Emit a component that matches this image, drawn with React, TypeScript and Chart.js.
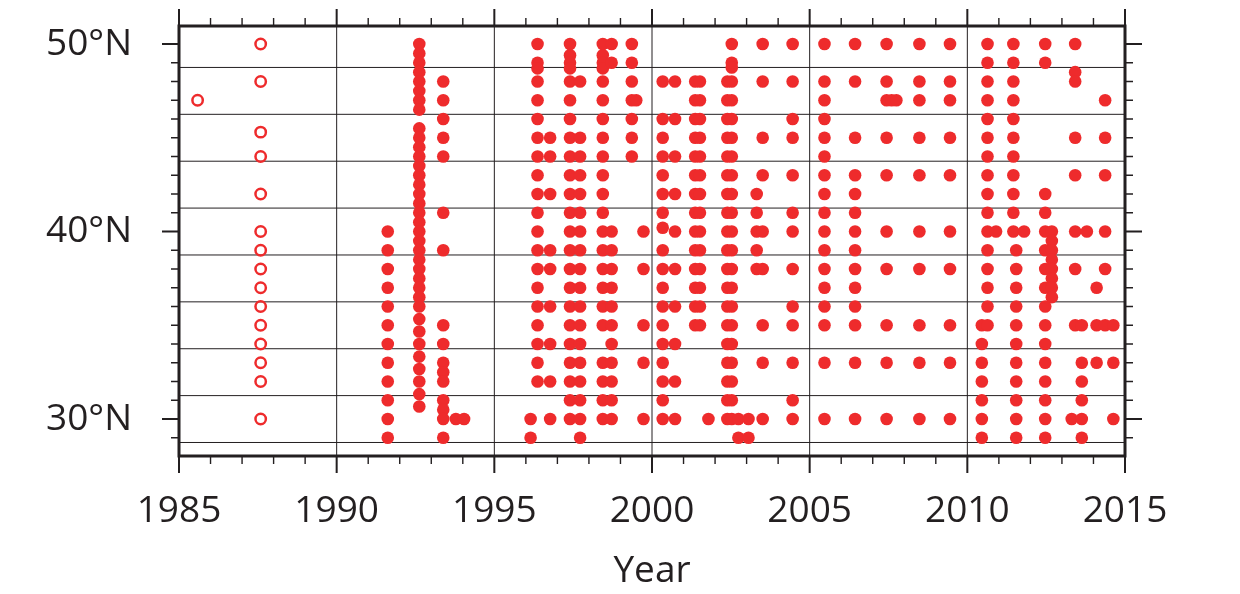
import React, { useEffect, useRef } from 'react';
import { Chart, registerables } from 'chart.js';

Chart.register(...registerables);

// ---------- data ----------
const openYears = [1985.59, 1987.59];
const openLats = [
  [47],
  [50, 48, 45.3, 44, 42, 40, 39, 38, 37, 36, 35, 34, 33, 32, 30],
];

const filledYears = [
  1991.62, 1992.62, 1993.38, 1993.78, 1994.04,
  1996.15, 1996.37, 1996.77, 1997.4, 1997.72, 1998.44, 1998.72, 1999.36, 1999.5, 1999.73,
  2000.34, 2000.73, 2001.37, 2001.52, 2001.79, 2002.39, 2002.53, 2002.74, 2003.06, 2003.32, 2003.51, 2004.46,
  2005.47, 2006.44, 2007.44, 2007.6, 2007.75, 2008.48, 2009.45,
  2010.46, 2010.64, 2010.91, 2011.46, 2011.55, 2011.8, 2012.47, 2012.68, 2013.31, 2013.42, 2013.63, 2013.79,
  2014.1, 2014.37, 2014.63,
];
const filledLats = [
  [40, 39, 38, 37, 36, 35, 34, 33, 32, 31, 30, 29],
  [50, 49.5, 49, 48.5, 48, 47.5, 47, 46.5, 45.5, 45, 44.5, 44, 43.5, 43, 42.5, 42, 41.5, 41, 40.5, 40, 39.5, 39, 38.5, 38, 37.5, 37, 36.5, 36, 35.33, 34.67, 34, 33.33, 32.67, 32, 31.33, 30.67],
  [48, 47, 46, 45, 44, 41, 39, 35, 34, 33, 32.5, 32, 31, 30.5, 30, 29],
  [30],
  [30],
  [30, 29],
  [50, 49, 48.7, 48, 47, 46, 45, 44, 43, 42, 41, 40, 39, 38, 37, 36, 35, 34, 33, 32],
  [45, 44, 42, 39, 38, 36, 34, 32, 30],
  [50, 49.4, 49, 48.7, 48, 47, 46, 45, 44, 43, 42, 41, 40, 39, 38, 37, 36, 35, 34, 33, 32, 31, 30],
  [48, 45, 44, 43, 42, 41, 40, 39, 38, 37, 36, 35, 34, 33, 32, 31, 30, 29],
  [50, 49.4, 49, 48.7, 48, 47, 46, 45, 44, 43, 42, 41, 40, 39, 38, 37, 36, 35, 33, 32, 31, 30],
  [50, 49, 40, 39, 38, 37, 36, 35, 34, 33, 32, 31, 30],
  [50, 49, 48, 47, 46, 45, 44],
  [47],
  [40, 38, 35, 33, 30],
  [48, 46, 45, 44, 43, 42, 41, 40.2, 39, 38, 37, 36, 35, 34, 33, 32, 31, 30],
  [48, 46, 44, 42, 40, 38, 36, 34, 32, 30],
  [48, 47, 46, 45, 44, 43, 42, 41, 40, 39, 38, 37, 36, 35],
  [48, 47, 46, 45, 44, 43, 42, 41, 40, 39, 38, 37, 36, 35],
  [30],
  [48, 47, 46, 45, 44, 43, 42, 41, 40, 39, 38, 37, 36, 35, 34, 33, 32, 31, 30],
  [50, 49, 48.75, 48, 47, 46, 45, 44, 43, 42, 41, 40, 39, 38, 37, 36, 35, 34, 33, 32, 31, 30],
  [30, 29],
  [30, 29],
  [42, 41, 40, 39, 38],
  [50, 48, 45, 43, 40, 38, 35, 33, 30],
  [50, 48, 46, 45, 43, 41, 40, 38, 36, 35, 33, 31, 30],
  [50, 48, 47, 46, 45, 44, 43, 42, 41, 40, 39, 38, 37, 36, 35, 33, 30],
  [50, 48, 45, 43, 42, 41, 40, 39, 38, 37, 36, 35, 33, 30],
  [50, 48, 47, 45, 43, 40, 38, 35, 33, 30],
  [47],
  [47],
  [50, 48, 47, 45, 43, 40, 38, 35, 33, 30],
  [50, 48, 47, 45, 43, 40, 38, 35, 33, 30],
  [35, 34, 33, 32, 31, 30, 29],
  [50, 49, 48, 47, 46, 45, 44, 43, 42, 41, 40, 39, 38, 37, 36, 35],
  [40],
  [50, 49, 48, 47, 46, 45, 44, 43, 42, 41, 40],
  [39, 38, 37, 36, 35, 34, 33, 32, 31, 30, 29],
  [40],
  [50, 49, 42, 41, 40, 39, 38, 37, 36, 35, 34, 33, 32, 31, 30, 29],
  [40, 39.5, 39, 38.5, 38, 37.5, 37, 36.5],
  [30],
  [50, 48.5, 48, 45, 43, 40, 38, 35],
  [35, 33, 32, 31, 30, 29],
  [40],
  [37, 35, 33],
  [47, 45, 43, 40, 38, 35],
  [35, 33, 30],
];

const xTickYears = [1985, 1990, 1995, 2000, 2005, 2010, 2015];
const yTickLats = [30, 40, 50];
const gridLats = [28.75, 31.25, 33.75, 36.25, 38.75, 41.25, 43.75, 46.25, 48.75];

// ---------- style ----------
const INK = '#231f20';
const RED = '#ee2b2c';
const FONT = '"Open Sans", "Noto Sans", sans-serif';
const FS = 37;

const toPoints = (years: number[], lats: number[][]) =>
  years.flatMap((yr, i) => lats[i].map((lat) => ({ x: yr, y: lat })));

const framePlugin = {
  id: 'framePlugin',
  beforeDatasetsDraw(chart: any) {
    const { ctx, chartArea: a, scales } = chart;
    const x = scales.x;
    const y = scales.y;
    ctx.save();
    ctx.strokeStyle = INK;
    ctx.lineWidth = 1;
    gridLats.forEach((v) => {
      const py = y.getPixelForValue(v);
      ctx.beginPath();
      ctx.moveTo(a.left, py);
      ctx.lineTo(a.right, py);
      ctx.stroke();
    });
    xTickYears.forEach((v) => {
      const px = x.getPixelForValue(v);
      ctx.beginPath();
      ctx.moveTo(px, a.top);
      ctx.lineTo(px, a.bottom);
      ctx.stroke();
    });
    ctx.restore();
  },
  afterDraw(chart: any) {
    const { ctx, chartArea: a, scales } = chart;
    const x = scales.x;
    const y = scales.y;
    ctx.save();
    ctx.strokeStyle = INK;
    // ticks on x (top and bottom)
    for (let yr = Math.ceil(x.min); yr <= x.max; yr++) {
      const major = yr % 5 === 0;
      const len = major ? 17 : 8;
      const px = x.getPixelForValue(yr);
      ctx.lineWidth = major ? 2 : 1.4;
      ctx.beginPath();
      ctx.moveTo(px, a.bottom);
      ctx.lineTo(px, a.bottom + len);
      ctx.moveTo(px, a.top);
      ctx.lineTo(px, a.top - len);
      ctx.stroke();
    }
    // ticks on y (left and right)
    for (let lat = Math.ceil(y.min); lat <= y.max; lat++) {
      const major = lat % 10 === 0;
      const len = major ? 17 : 8;
      const py = y.getPixelForValue(lat);
      ctx.lineWidth = major ? 2 : 1.4;
      ctx.beginPath();
      ctx.moveTo(a.left, py);
      ctx.lineTo(a.left - len, py);
      ctx.moveTo(a.right, py);
      ctx.lineTo(a.right + len, py);
      ctx.stroke();
    }
    // frame
    ctx.lineWidth = 3;
    ctx.strokeRect(a.left, a.top, a.right - a.left, a.bottom - a.top);
    ctx.restore();
  },
};

export default function App() {
  const canvasRef = useRef<HTMLCanvasElement | null>(null);

  useEffect(() => {
    if (!canvasRef.current) return;
    const chart = new Chart(canvasRef.current, {
      type: 'scatter',
      data: {
        datasets: [
          {
            label: 'open',
            data: toPoints(openYears, openLats),
            pointStyle: 'circle',
            pointRadius: 5.2,
            pointBorderWidth: 2.5,
            pointBorderColor: RED,
            pointBackgroundColor: 'rgba(255,255,255,0)',
            borderColor: RED,
            backgroundColor: 'rgba(255,255,255,0)',
          },
          {
            label: 'filled',
            data: toPoints(filledYears, filledLats),
            pointStyle: 'circle',
            pointRadius: 6.3,
            pointBorderWidth: 0,
            pointBackgroundColor: RED,
            borderColor: RED,
            backgroundColor: RED,
          },
        ],
      },
      options: {
        animation: false,
        responsive: false,
        events: [],
        layout: { padding: { left: 0, top: 26, right: 115, bottom: 0 } },
        plugins: {
          legend: { display: false },
          tooltip: { enabled: false },
        },
        scales: {
          x: {
            type: 'linear',
            min: 1985,
            max: 2015,
            afterBuildTicks: (s: any) => {
              s.ticks = xTickYears.map((v) => ({ value: v }));
            },
            afterFit: (s: any) => {
              s.height = 138;
              s.paddingLeft = 0;
              s.paddingRight = 0;
            },
            grid: { display: false, drawTicks: false },
            border: { display: false },
            ticks: {
              padding: 33,
              color: INK,
              maxRotation: 0,
              autoSkip: false,
              font: { family: FONT, size: FS },
              callback: (v: any) => String(v),
            },
            title: {
              display: true,
              text: 'Year',
              color: INK,
              font: { family: FONT, size: FS },
              padding: { top: 0, bottom: 0 },
            },
          },
          y: {
            type: 'linear',
            min: 28.03,
            max: 50.96,
            afterBuildTicks: (s: any) => {
              s.ticks = yTickLats.map((v) => ({ value: v }));
            },
            afterFit: (s: any) => {
              s.width = 179;
              s.paddingTop = 0;
              s.paddingBottom = 0;
            },
            grid: { display: false, drawTicks: false },
            border: { display: false },
            ticks: {
              padding: 47,
              color: INK,
              autoSkip: false,
              font: { family: FONT, size: FS },
              callback: (v: any) => `${v}°N`,
            },
          },
        },
      },
      plugins: [framePlugin],
    });
    return () => chart.destroy();
  }, []);

  return (
    <div style={{ position: 'absolute', left: 0, top: 0, width: 1240, height: 594, background: '#fff' }}>
      <canvas ref={canvasRef} width={1240} height={594} style={{ display: 'block' }} />
    </div>
  );
}
